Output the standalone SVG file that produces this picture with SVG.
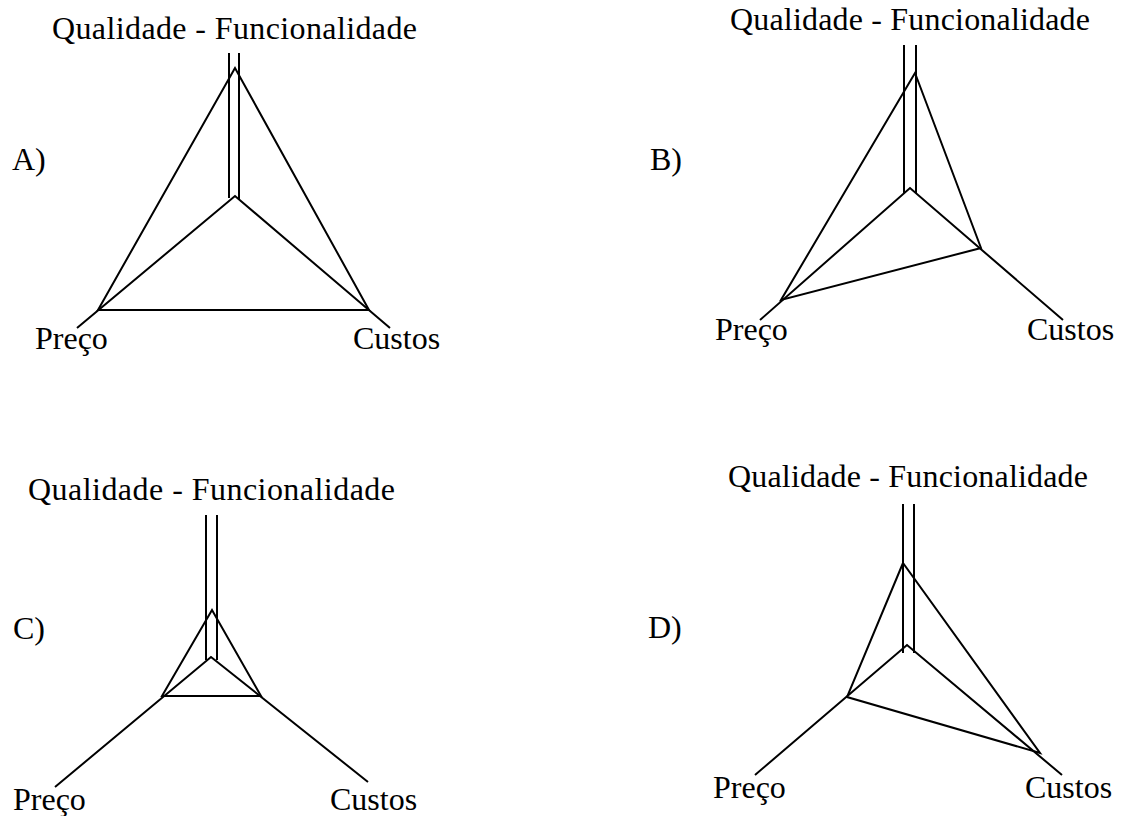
<svg xmlns="http://www.w3.org/2000/svg" width="1132" height="816" viewBox="0 0 1132 816">
<style>
text{font-family:'Liberation Serif','Times New Roman','DejaVu Serif',serif;font-size:32px;fill:#000}
.ln{stroke:#000;stroke-width:2;fill:none;stroke-linejoin:miter}
</style>
<rect width="1132" height="816" fill="#fff"/>
<g id="panelA">
<text x="52" y="39" textLength="365" lengthAdjust="spacing">Qualidade - Funcionalidade</text>
<text x="12" y="170">A)</text>
<text x="35" y="349">Preço</text>
<text x="353" y="349">Custos</text>
<g id="connectorsA" class="ln">
<line x1="229" y1="53" x2="229" y2="198"/>
<line x1="239" y1="53" x2="239" y2="200"/>
<polyline points="77,328 235,196 390,328"/>
<polygon points="235,68 98,310 369,310"/>
</g>
</g>
<g id="panelB">
<text x="730" y="30" textLength="360" lengthAdjust="spacing">Qualidade - Funcionalidade</text>
<text x="650" y="170">B)</text>
<text x="715" y="340">Preço</text>
<text x="1027" y="340">Custos</text>
<g id="connectorsB" class="ln">
<line x1="904" y1="45" x2="904" y2="193"/>
<line x1="916" y1="45" x2="916" y2="193"/>
<polyline points="760,320 910,188 1063,320"/>
<polygon points="915,73 781,300 981,248"/>
</g>
</g>
<g id="panelC">
<text x="28" y="500" textLength="367" lengthAdjust="spacing">Qualidade - Funcionalidade</text>
<text x="13" y="639">C)</text>
<text x="13" y="810">Preço</text>
<text x="330" y="810">Custos</text>
<g id="connectorsC" class="ln">
<line x1="206" y1="515" x2="206" y2="660"/>
<line x1="217" y1="515" x2="217" y2="660"/>
<polyline points="55,787 211,657 368,782"/>
<polygon points="212,610 162,696 261,696"/>
</g>
</g>
<g id="panelD">
<text x="728" y="487" textLength="360" lengthAdjust="spacing">Qualidade - Funcionalidade</text>
<text x="648" y="638">D)</text>
<text x="713" y="798">Preço</text>
<text x="1025" y="798">Custos</text>
<g id="connectorsD" class="ln">
<line x1="903" y1="504" x2="903" y2="653"/>
<line x1="914" y1="504" x2="914" y2="653"/>
<polyline points="755,775 907,645 1062,775"/>
<polygon points="903,563 847,697 1040,753"/>
</g>
</g>
</svg>
